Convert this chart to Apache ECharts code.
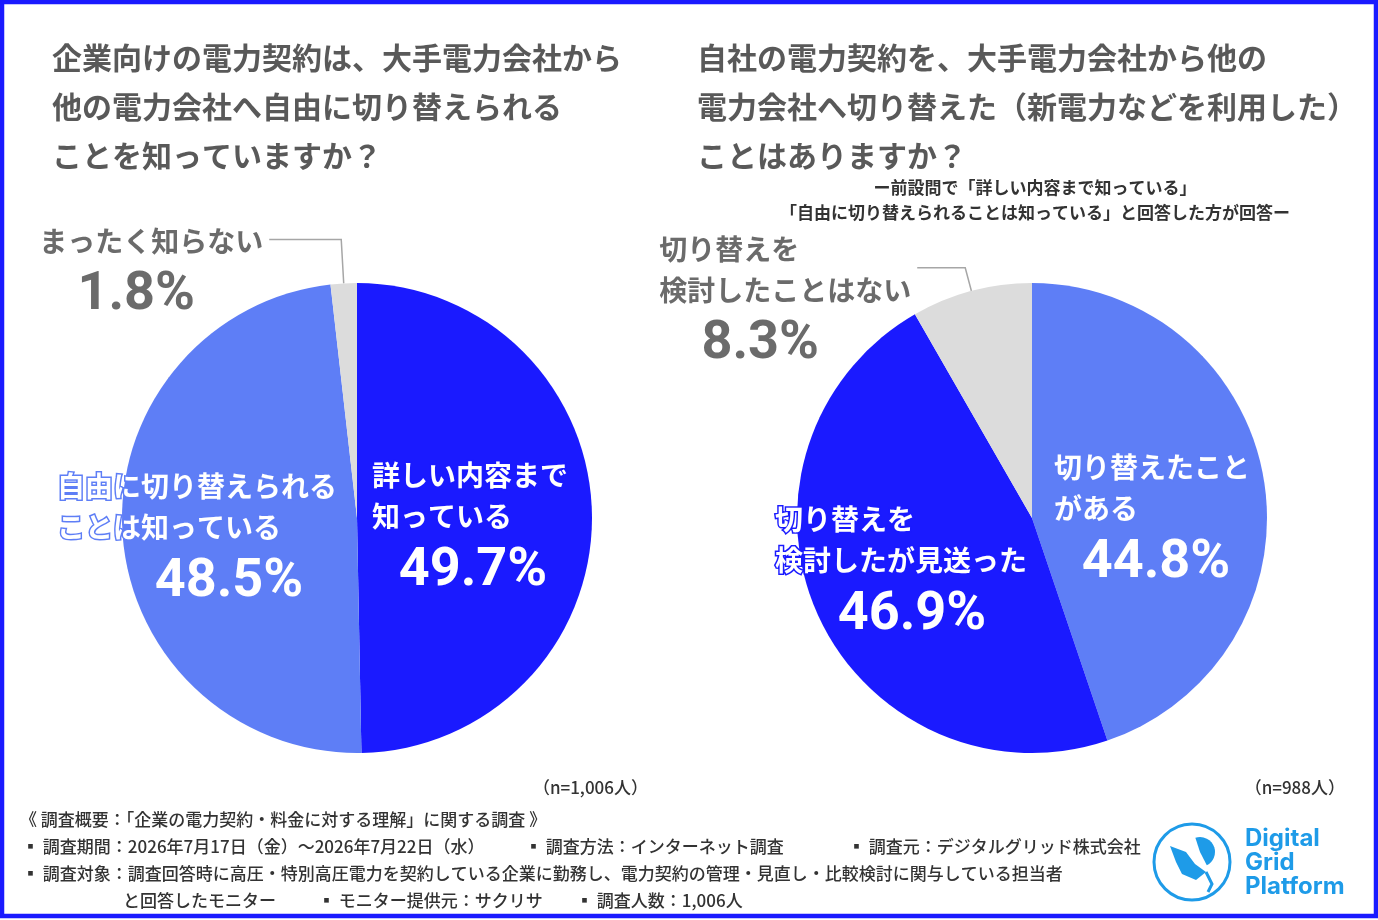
<!DOCTYPE html>
<html>
<head>
<meta charset="utf-8">
<script src="https://cdn.jsdelivr.net/npm/echarts@6/dist/echarts.min.js"></script>
<style>
    html, body { margin: 0; padding: 0; background: #fff; }
    #main { width: 1378px; height: 920px; }
</style>
</head>
<body>
<div id="main"></div>
<script>
    // 左：自由に切り替えられることを知っているか (n=1,006)
    var leftNames = ['詳しい内容まで\n知っている', '自由に切り替えられる\nことは知っている', 'まったく知らない'];
    var leftValues = [49.7, 48.5, 1.8];
    // 右：切り替えたことがあるか (n=988)
    var rightNames = ['切り替えたこと\nがある', '切り替えを\n検討したが見送った', '切り替えを\n検討したことはない'];
    var rightValues = [44.8, 46.9, 8.3];

    var DARK = '#1a1aff';
    var LIGHT = '#5e7ef6';
    var GRAY = '#dcdcdc';
    var leftColors = [DARK, LIGHT, GRAY];
    var rightColors = [LIGHT, DARK, GRAY];

    var JP = '"Noto Sans CJK JP", "Noto Sans", sans-serif';
    var NUM = 'Roboto, "DejaVu Sans Condensed", sans-serif';

    // 内側ラベルの左上位置と、数値の横ずらし
    var labelPos = {
        left: [[372, 455, 3], [57, 466, 32], [null, null, -15]],
        right: [[1054, 447, 4], [775, 499, 11], [null, null, -25]]
    };
    var PCT_LH = 68;

    function makeItem(name, value, color, pos) {
        var outer = color === GRAY;
        var txt = outer ? '#6b6b6b' : '#fff';
        var shift = pos[2];
        return {
            name: name,
            value: value,
            itemStyle: { color: color },
            label: {
                position: outer ? 'outside' : 'inside',
                padding: outer ? [PCT_LH + 4, 0, 0, 0] : 0,
                rich: {
                    n: {
                        fontFamily: JP, fontSize: 28, fontWeight: 'bold', lineHeight: 41,
                        color: txt, align: 'left',
                        textBorderColor: outer ? 'transparent' : color,
                        textBorderWidth: outer ? 0 : 3
                    },
                    p: {
                        fontFamily: NUM, fontSize: 54, fontWeight: 'bold', lineHeight: PCT_LH,
                        color: txt, align: 'center',
                        padding: shift > 0 ? [0, 0, 0, shift * 2] : [0, -shift * 2, 0, 0]
                    }
                }
            }
        };
    }

    function fmt(params) {
        var lines = params.name.split('\n').map(function (s) { return '{n|' + s + '}'; });
        return lines.join('\n') + '\n{p|' + params.value.toFixed(1) + '%}';
    }

    function pieSeries(key, names, values, colors, center, lineLen, lineLen2) {
        var data = [];
        for (var i = 0; i < values.length; i++) {
            data.push(makeItem(names[i], values[i], colors[i], labelPos[key][i]));
        }
        return {
            type: 'pie',
            center: center,
            radius: 235,
            startAngle: 90,
            clockwise: true,
            avoidLabelOverlap: false,
            silent: true,
            label: { show: true, formatter: fmt, distanceToLabelLine: 6 },
            labelLine: {
                show: true,
                length: lineLen,
                length2: lineLen2,
                lineStyle: { color: '#a6a6a6', width: 1.5 }
            },
            labelLayout: function (p) {
                var pos = labelPos[key][p.dataIndex];
                if (pos[0] == null) return;
                return { x: pos[0], y: pos[1], align: 'left', verticalAlign: 'top' };
            },
            data: data
        };
    }

    var FOOT = '500 17px ' + JP;
    var myChart = echarts.init(document.getElementById('main'));
    myChart.setOption({
        backgroundColor: '#fff',
        animation: false,
        title: [
            {
                text: '企業向けの電力契約は、大手電力会社から\n他の電力会社へ自由に切り替えられる\nことを知っていますか？',
                left: 52, top: 33, padding: 0,
                textStyle: { fontFamily: JP, fontSize: 30, fontWeight: 'bold', color: '#595959', lineHeight: 49 }
            },
            {
                text: '自社の電力契約を、大手電力会社から他の\n電力会社へ切り替えた（新電力などを利用した）\nことはありますか？',
                left: 697, top: 33, padding: 0,
                textStyle: { fontFamily: JP, fontSize: 30, fontWeight: 'bold', color: '#595959', lineHeight: 49 }
            },
            {
                text: 'ー前設問で「詳しい内容まで知っている」\n「自由に切り替えられることは知っている」と回答した方が回答ー',
                left: 1035, top: 175, textAlign: 'center', padding: 0,
                textStyle: { fontFamily: JP, fontSize: 17, fontWeight: 'bold', color: '#333', lineHeight: 25, align: 'center' }
            }
        ],
        series: [
            pieSeries('left', leftNames, leftValues, leftColors, [357, 518], 44, 72),
            pieSeries('right', rightNames, rightValues, rightColors, [1032, 518], 24, 48)
        ],
        graphic: [
            { type: 'rect', shape: { x: 2, y: 2, width: 1374, height: 914 }, style: { fill: 'none', stroke: DARK, lineWidth: 4.5 } },
            { type: 'text', right: 730, top: 779, style: { text: '（n=1,006人）', font: FOOT, fill: '#333' } },
            { type: 'text', right: 33, top: 779, style: { text: '（n=988人）', font: FOOT, fill: '#333' } },
            { type: 'text', left: 20, top: 811, style: { text: '《 調査概要：「企業の電力契約・料金に対する理解」に関する調査 》', font: FOOT, fill: '#333' } },
            { type: 'text', left: 22, top: 838, style: { text: '▪ 調査期間：2026年7月17日（金）～2026年7月22日（水）', font: FOOT, fill: '#333' } },
            { type: 'text', left: 525, top: 838, style: { text: '▪ 調査方法：インターネット調査', font: FOOT, fill: '#333' } },
            { type: 'text', left: 848, top: 838, style: { text: '▪ 調査元：デジタルグリッド株式会社', font: FOOT, fill: '#333' } },
            { type: 'text', left: 22, top: 865, style: { text: '▪ 調査対象：調査回答時に高圧・特別高圧電力を契約している企業に勤務し、電力契約の管理・見直し・比較検討に関与している担当者', font: FOOT, fill: '#333' } },
            { type: 'text', left: 123, top: 892, style: { text: 'と回答したモニター', font: FOOT, fill: '#333' } },
            { type: 'text', left: 318, top: 892, style: { text: '▪ モニター提供元：サクリサ', font: FOOT, fill: '#333' } },
            { type: 'text', left: 576, top: 892, style: { text: '▪ 調査人数：1,006人', font: FOOT, fill: '#333' } },
            // ロゴ
            { type: 'circle', shape: { cx: 1192, cy: 862, r: 38 }, style: { fill: 'none', stroke: '#1e9be8', lineWidth: 3 } },
            { type: 'sector', shape: { cx: 1200, cy: 852, r0: 0, r: 15, startAngle: -Math.PI * 0.6, endAngle: Math.PI * 0.35 }, style: { fill: '#1e9be8' } },
            { type: 'polygon', shape: { points: [[1170, 846], [1186, 852], [1195, 864], [1206, 872], [1196, 880], [1182, 874], [1176, 862]] }, style: { fill: '#1e9be8' } },
            { type: 'polyline', shape: { points: [[1206, 872], [1212, 884], [1208, 892]] }, style: { stroke: '#1e9be8', lineWidth: 3, fill: 'none' } },
            { type: 'text', left: 1245, top: 827, style: { text: 'Digital\nGrid\nPlatform', font: 'bold 24px Inter, Roboto, sans-serif', fill: '#1e9be8', lineHeight: 24 } }
        ]
    });
</script>
</body>
</html>
